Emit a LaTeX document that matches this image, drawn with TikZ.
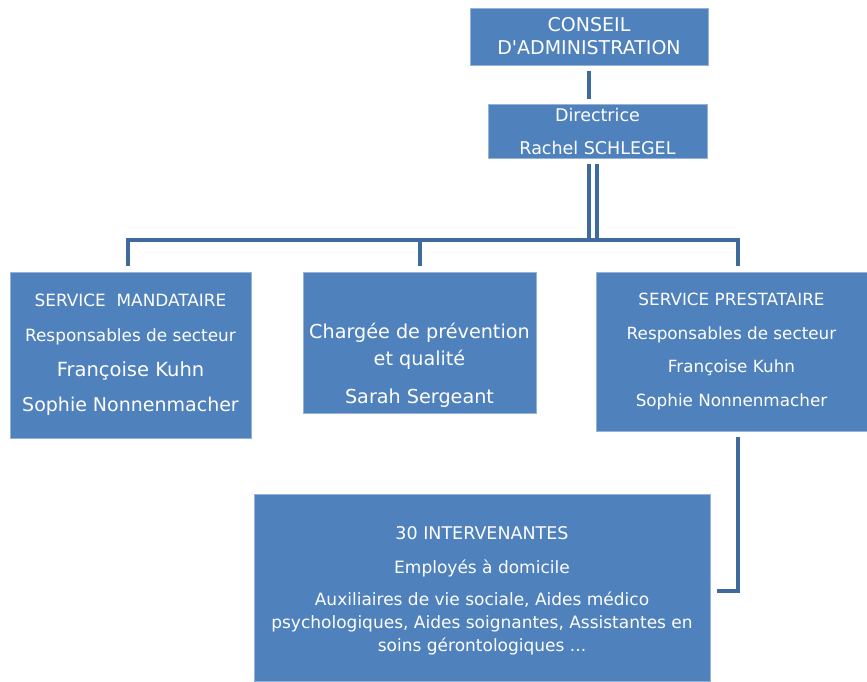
\documentclass[tikz,border=0pt]{standalone}
\usepackage{fontspec}
\setmainfont{DejaVu Sans}[Ligatures=TeXOff]
\definecolor{boxblue}{HTML}{4F81BD}
\definecolor{linkblue}{HTML}{3F6A9C}
\newcommand{\fs}[1]{\fontsize{#1}{#1}\selectfont}
\begin{document}
\begin{tikzpicture}[x=1pt, y=-1pt,
    unit/.style ={rectangle, fill=boxblue, draw=boxblue!60!white, line width=0.8pt,
                  text=white, align=center, inner sep=0pt},
    caption/.style ={text=white, align=center, inner sep=0pt},
    link/.style ={draw=linkblue, line width=4pt, line join=miter}]
   \useasboundingbox (0,0) rectangle (867,681);

   \node[unit, minimum width=238, minimum height=57, font=\fontsize{19}{23}\selectfont] (CA) at (589,36.5)
        {CONSEIL\\D'ADMINISTRATION};
   \node[unit, minimum width=219, minimum height=54, font=\fontsize{17.5}{33}\selectfont] (DIR) at (597.5,131)
        {Directrice\\Rachel SCHLEGEL};
   \node[unit, minimum width=241, minimum height=166, font=\fontsize{16.9}{35}\selectfont] (SM) at (130.5,355)
        {SERVICE\ \ MANDATAIRE\\Responsables de secteur\\{\fs{19.5}Françoise Kuhn}\\{\fs{19}Sophie Nonnenmacher}};
   \node[unit, minimum width=233, minimum height=141] (CQ) at (419.5,342.5) {};
   \node[caption, font=\fontsize{19.2}{27.5}\selectfont] (CQtext) at (419.5,365)
        {Chargée de prévention\\et qualité\\[10pt]Sarah Sergeant};
   \node[unit, minimum width=271, minimum height=159, font=\fontsize{16.8}{33.5}\selectfont] (SP) at (731.5,351.5)
        {SERVICE PRESTATAIRE\\Responsables de secteur\\Françoise Kuhn\\Sophie Nonnenmacher};
   \node[unit, minimum width=456, minimum height=187] (INT) at (482,587.5) {};
   \node[caption, font=\fontsize{17}{23}\selectfont] (INTtext) at (482,591)
        {{\fs{17.5}30 INTERVENANTES}\\[11pt]Employés à domicile\\[9pt]Auxiliaires de vie sociale, Aides médico\\psychologiques, Aides soignantes, Assistantes en\\soins gérontologiques ...};

   \coordinate (hub) at (593,240);

   \draw[link] ([yshift=-6pt]CA.south) -- ([yshift=5pt]CA.south |- DIR.north);
   \draw[link] ([xshift=-8.5pt,yshift=-6pt]DIR.south) -- ([xshift=-8.5pt]DIR.south |- hub);
   \draw[link] ([xshift=-0.5pt,yshift=-6pt]DIR.south) -- ([xshift=-0.5pt]DIR.south |- hub);
   \draw[link] ([xshift=-2.5pt,yshift=6pt]SM.north) |- (hub) -| ([xshift=6.5pt,yshift=6pt]SP.north);
   \draw[link] ([yshift=6pt]CQ.north) -- (CQ.north |- hub);
   \draw[link] ([xshift=6.5pt,yshift=-6pt]SP.south) |- ([xshift=7pt,yshift=-3.5pt]INT.east);
 \end{tikzpicture}
\end{document}
